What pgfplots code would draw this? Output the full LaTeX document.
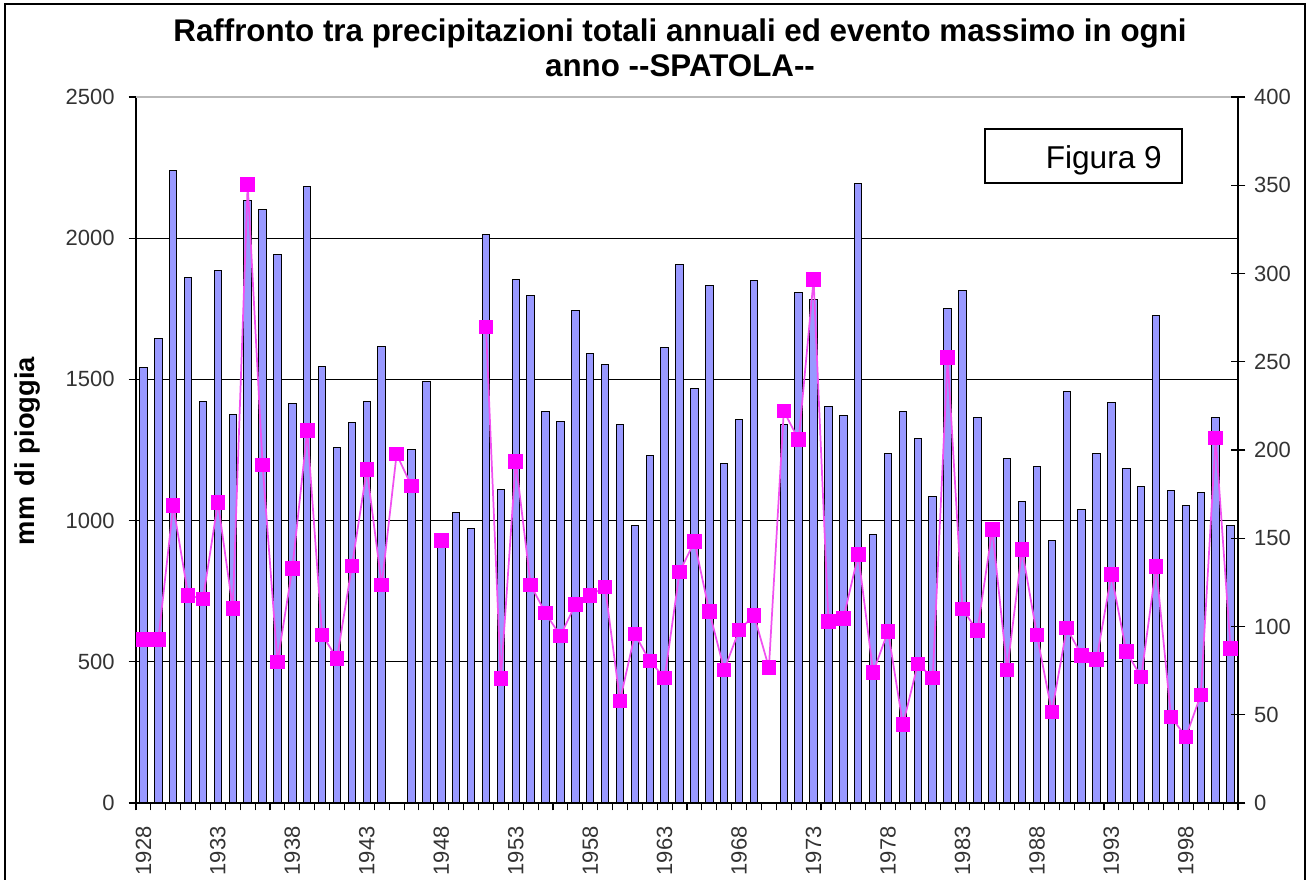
\documentclass[border=0pt]{standalone}
\usepackage{fontspec}
\setmainfont{Liberation Sans}
\usepackage{pgfplots}
\pgfplotsset{compat=1.18}
\usepackage{pgfplotstable}
\definecolor{barblue}{HTML}{9999FF}
\definecolor{mag}{HTML}{FF00FF}
\definecolor{magline}{HTML}{F050F0}

\pgfplotstableread{
year prec max
1928 1542 92.6
1929 1645 92.6
1930 2240 168.5
1931 1860 117.7
1932 1421 115.6
1933 1884 170.3
1934 1377 110.3
1935 2132 350.4
1936 2102 191.5
1937 1942 79.9
1938 1416 133
1939 2183 211
1940 1547 95.2
1941 1259 82
1942 1347 134.4
1943 1421 189
1944 1618 123.5
1945 nan 197.6
1946 1253 179.6
1947 1493 nan
1948 910 148.6
1949 1030 nan
1950 972 nan
1951 2012 269.8
1952 1111 70.6
1953 1855 193.6
1954 1797 123.5
1955 1388 107.6
1956 1352 94.7
1957 1744 112.4
1958 1593 117.7
1959 1554 122.4
1960 1342 57.9
1961 983 95.7
1962 1231 80.4
1963 1612 70.9
1964 1906 130.9
1965 1468 148.1
1966 1831 108.4
1967 1203 75.4
1968 1358 97.9
1969 1850 106.3
1970 nan 76.7
1971 1342 222
1972 1808 205.8
1973 1782 296.5
1974 1403 102.9
1975 1372 104.5
1976 2195 140.7
1977 949 74
1978 1238 97.3
1979 1388 44.4
1980 1291 78.8
1981 1086 70.9
1982 1750 252.3
1983 1813 109.8
1984 1364 97.6
1985 990 155
1986 1220 75.3
1987 1069 143.5
1988 1190 95.1
1989 931 51.5
1990 1456 99.1
1991 1041 83.7
1992 1238 81.3
1993 1417 129.4
1994 1185 85.8
1995 1122 71.3
1996 1727 134.1
1997 1107 48.8
1998 1055 37.5
1999 1099 61.2
2000 1364 206.7
2001 983 87.6
}\data

\begin{document}
\begin{tikzpicture}
\useasboundingbox (-102pt,-57.75pt) rectangle (879.75pt,602.25pt);
\draw[black, line width=1.5pt] (-98.25pt,-80pt) -- (-98.25pt,599.25pt) -- (876.75pt,599.25pt) -- (876.75pt,-80pt);
\begin{axis}[
  at={(0pt,0pt)}, anchor=south west,
  scale only axis, width=826.5pt, height=529.5pt,
  xmin=1927.5, xmax=2001.5, ymin=0, ymax=2500,
  axis x line*=bottom, axis y line*=left,
  axis line style={black, line width=0.9pt},
  tick align=outside, major tick length=5.5pt,
  tick style={black, line width=0.8pt},
  ytick={0,500,1000,1500,2000},
  extra y ticks={2500},
  extra y tick style={grid style={gray!55, line width=1.2pt}},
  ymajorgrids, grid style={black, line width=0.9pt},
  xtick={1927.5,1928.5,...,2001.6},
  xticklabels={},
  extra x ticks={1928,1933,1938,1943,1948,1953,1958,1963,1968,1973,1978,1983,1988,1993,1998},
  extra x tick labels={1928,1933,1938,1943,1948,1953,1958,1963,1968,1973,1978,1983,1988,1993,1998},
  extra x tick style={major tick length=0pt},
  xticklabel style={rotate=90, anchor=east},
  xticklabel shift=14pt,
  yticklabel style={xshift=-7pt},
  tick label style={font=\fontsize{16.5}{19}\selectfont, text=black!80},
  /pgf/number format/assume math mode=true,
  /pgf/number format/1000 sep={},
  clip=false,
]
\addplot[ybar, bar width=0.5, fill=barblue, draw=black, line width=0.75pt, unbounded coords=discard] table[x=year, y=prec]{\data};
\end{axis}
\begin{axis}[
  at={(0pt,0pt)}, anchor=south west,
  scale only axis, width=826.5pt, height=529.5pt,
  xmin=1927.5, xmax=2001.5, ymin=0, ymax=400,
  axis x line=none, axis y line*=right,
  axis line style={black, line width=0.9pt},
  tick align=center, major tick length=11pt,
  tick style={black, line width=0.8pt},
  ytick={0,50,...,400},
  yticklabel style={anchor=west, xshift=3pt},
  tick label style={font=\fontsize{16.5}{19}\selectfont, text=black!80},
  /pgf/number format/assume math mode=true,
]
\addplot[magline, line width=1.3pt, mark=square*, mark size=4.8pt, mark options={fill=mag, draw=mag, solid}, unbounded coords=jump] table[x=year, y=max]{\data};
\end{axis}
\node[font=\bfseries\fontsize{23.5}{26.25}\selectfont, align=center] at (408pt,566.6pt) {Raffronto tra precipitazioni totali annuali ed evento massimo in ogni\\anno {-}{-}SPATOLA{-}{-}};
\node[rotate=90, font=\bfseries\fontsize{20.5}{24}\selectfont] at (-81.75pt,264pt) {mm\hspace{0.38em}di pioggia};
\draw[black, line width=1.5pt] (636.75pt,465pt) rectangle (784.5pt,505.5pt);
\node[anchor=base east, font=\fontsize{23.7}{28}\selectfont, inner sep=0pt] at (769.5pt,475.5pt) {Figura 9};
\end{tikzpicture}
\end{document}
